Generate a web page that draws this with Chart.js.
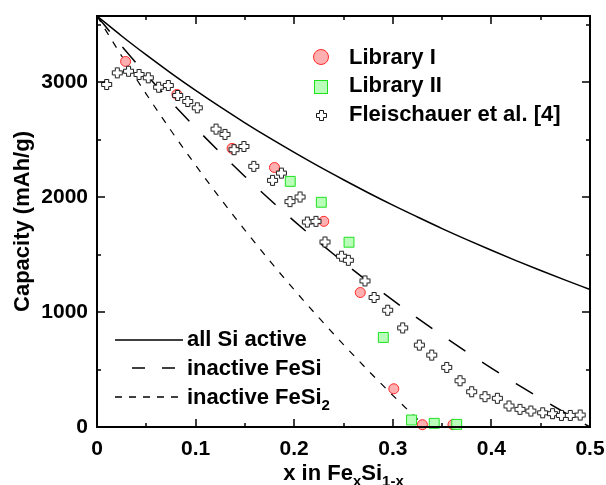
<!DOCTYPE html>
<html>
<head>
<meta charset="utf-8">
<script src="https://cdn.jsdelivr.net/npm/chart.js@4.4.0/dist/chart.umd.min.js"></script>
<style>
  html, body { margin: 0; padding: 0; background: #fff; }
</style>
</head>
<body>
<canvas id="chart" width="606" height="485"></canvas>
<script>
// Library I (red circles)
const lib1X = [0.029, 0.081, 0.137, 0.180, 0.230, 0.267, 0.301, 0.330, 0.361];
const lib1Y = [3183, 2896, 2426, 2260, 1791, 1171, 333, 20, 20];

// Library II (green squares)
const lib2X = [0.196, 0.2275, 0.2556, 0.2904, 0.319, 0.342, 0.3648];
const lib2Y = [2139, 1957, 1609, 780, 61, 32, 23];

// Fleischauer et al. [4] (open crosses)
const flX = [0.0098, 0.0206, 0.032, 0.0426, 0.052, 0.0625, 0.0723, 0.0818, 0.092, 0.1017,
             0.1207, 0.1298, 0.139, 0.149, 0.159, 0.178, 0.187, 0.1957, 0.2059, 0.2133,
             0.2221, 0.2312, 0.248, 0.2549, 0.2718, 0.281, 0.2948, 0.310, 0.3269, 0.3395,
             0.3547, 0.3682, 0.380, 0.3935, 0.406, 0.4178, 0.429, 0.440, 0.452, 0.462,
             0.471, 0.480, 0.490];
const flY = [2983, 3084, 3098, 3070, 3041, 2959, 2974, 2887, 2835, 2780,
             2594, 2548, 2415, 2443, 2270, 2148, 2211, 1963, 2003, 1785,
             1791, 1611, 1487, 1452, 1272, 1128, 1017, 863, 713, 626,
             519, 403, 307, 264, 250, 183, 154, 139, 124, 116,
             101, 101, 104];

// model curves
const curveX = [0, 0.025, 0.05, 0.075, 0.1, 0.125, 0.15, 0.175, 0.2, 0.225, 0.25,
                0.275, 0.3, 0.325, 0.35, 0.375, 0.4, 0.425, 0.45, 0.475, 0.5];
const allSiY = [3579, 3405, 3240, 3082, 2931, 2787, 2649, 2517, 2391, 2269, 2153,
                2040, 1932, 1829, 1728, 1632, 1539, 1449, 1363, 1279, 1198];
const feSiY = [3579, 3318, 3069, 2832, 2606, 2389, 2182, 1983, 1793, 1610, 1435,
               1266, 1104, 948, 798, 653, 513, 378, 248, 122, 0];
const feSi2X = [0, 0.025, 0.05, 0.075, 0.1, 0.125, 0.15, 0.175, 0.2, 0.225, 0.25,
                0.275, 0.3, 0.325, 0.3333];
const feSi2Y = [3579, 3231, 2899, 2582, 2280, 1991, 1714, 1449, 1195, 952, 718,
                492, 276, 68, 0];

const xTicks = [0, 0.1, 0.2, 0.3, 0.4, 0.5];
const yTicks = [0, 1000, 2000, 3000];

const FONT = '"Liberation Sans", Arial, sans-serif';
const pts = (xs, ys) => xs.map((x, i) => ({ x: x, y: ys[i] }));

// hollow plus used for the Fleischauer points
function makePlus() {
    const c = document.createElement('canvas');
    c.width = c.height = 13;
    const g = c.getContext('2d');
    const m = 6.5, h = 2, L = 5;
    g.beginPath();
    g.moveTo(m - h, m - L); g.lineTo(m + h, m - L); g.lineTo(m + h, m - h);
    g.lineTo(m + L, m - h); g.lineTo(m + L, m + h); g.lineTo(m + h, m + h);
    g.lineTo(m + h, m + L); g.lineTo(m - h, m + L); g.lineTo(m - h, m + h);
    g.lineTo(m - L, m + h); g.lineTo(m - L, m - h); g.lineTo(m - h, m - h);
    g.closePath();
    g.fillStyle = '#fff';
    g.fill();
    g.strokeStyle = '#1a1a1a';
    g.lineWidth = 1;
    g.stroke();
    return c;
}
const plus = makePlus();

const C1_FILL = 'rgb(255,175,175)', C1_LINE = 'rgb(255,40,40)';
const C2_FILL = 'rgb(185,255,185)', C2_LINE = 'rgb(30,225,30)';

// frame, inner ticks, axis titles and both legends
const decor = {
    id: 'decor',
    afterDatasetsDraw(chart) {
        const { ctx, chartArea: a, scales: { x, y } } = chart;
        ctx.save();
        ctx.strokeStyle = '#000';
        ctx.lineWidth = 2;
        ctx.strokeRect(a.left, a.top, a.right - a.left, a.bottom - a.top);

        ctx.lineWidth = 1.5;
        ctx.beginPath();
        for (let i = 1; i < 10; i++) {
            const px = Math.round(x.getPixelForValue(i * 0.05));
            const len = i % 2 === 0 ? 8 : 4;
            ctx.moveTo(px, a.bottom); ctx.lineTo(px, a.bottom - len);
            ctx.moveTo(px, a.top); ctx.lineTo(px, a.top + len);
        }
        for (let i = 1; i <= 7; i++) {
            const py = Math.round(y.getPixelForValue(i * 500));
            const len = i % 2 === 0 ? 8 : 4;
            ctx.moveTo(a.left, py); ctx.lineTo(a.left + len, py);
            ctx.moveTo(a.right, py); ctx.lineTo(a.right - len, py);
        }
        ctx.stroke();

        ctx.fillStyle = '#000';
        ctx.textBaseline = 'alphabetic';

        // y title
        ctx.save();
        ctx.translate(29, (a.top + a.bottom) / 2);
        ctx.rotate(-Math.PI / 2);
        ctx.font = 'bold 22px ' + FONT;
        ctx.textAlign = 'center';
        ctx.fillText('Capacity (mAh/g)', 0, 0);
        ctx.restore();

        // x title with subscripts
        const parts = [['x in Fe', 22, 0], ['x', 15, 6], ['Si', 22, 0], ['1-x', 15, 6]];
        let total = 0;
        parts.forEach(p => { ctx.font = 'bold ' + p[1] + 'px ' + FONT; total += ctx.measureText(p[0]).width; });
        let cx = (a.left + a.right) / 2 - total / 2;
        ctx.textAlign = 'left';
        parts.forEach(p => {
            ctx.font = 'bold ' + p[1] + 'px ' + FONT;
            ctx.fillText(p[0], cx, 480 + p[2]);
            cx += ctx.measureText(p[0]).width;
        });

        // symbol legend (top right)
        ctx.font = 'bold 22px ' + FONT;
        ctx.lineWidth = 1;
        ctx.beginPath();
        ctx.arc(321, 57, 7.5, 0, Math.PI * 2);
        ctx.fillStyle = C1_FILL; ctx.fill();
        ctx.strokeStyle = C1_LINE; ctx.stroke();
        ctx.fillStyle = C2_FILL; ctx.fillRect(314, 80, 14, 14);
        ctx.strokeStyle = C2_LINE; ctx.strokeRect(314.5, 80.5, 13, 13);
        ctx.drawImage(plus, 315, 109);
        ctx.fillStyle = '#000';
        ctx.fillText('Library I', 349, 64);
        ctx.fillText('Library II', 349, 92);
        ctx.fillText('Fleischauer et al. [4]', 349, 121);

        // line legend (bottom left)
        ctx.strokeStyle = '#000';
        ctx.lineWidth = 1.5;
        const rows = [[340, []], [368, [13, 17]], [397, [7, 7]]];
        rows.forEach((r, i) => {
            ctx.setLineDash(r[1]);
            ctx.lineDashOffset = i === 1 ? 13 : 0;
            ctx.beginPath();
            ctx.moveTo(115, r[0]); ctx.lineTo(183, r[0]);
            ctx.stroke();
        });
        ctx.setLineDash([]);
        ctx.fillText('all Si active', 187, 346);
        ctx.fillText('inactive FeSi', 187, 375);
        ctx.fillText('inactive FeSi', 187, 404);
        const w = ctx.measureText('inactive FeSi').width;
        ctx.font = 'bold 15px ' + FONT;
        ctx.fillText('2', 187 + w, 410);
        ctx.restore();
    }
};

new Chart(document.getElementById('chart'), {
    type: 'scatter',
    data: {
        datasets: [
            {
                label: 'Fleischauer et al. [4]',
                data: pts(flX, flY),
                pointStyle: plus,
                order: 0
            },
            {
                label: 'Library II',
                data: pts(lib2X, lib2Y),
                pointStyle: 'rect',
                pointRadius: 7,
                backgroundColor: C2_FILL,
                borderColor: C2_LINE,
                borderWidth: 1,
                order: 1
            },
            {
                label: 'Library I',
                data: pts(lib1X, lib1Y),
                pointStyle: 'circle',
                pointRadius: 5,
                backgroundColor: C1_FILL,
                borderColor: C1_LINE,
                borderWidth: 1,
                order: 2
            },
            {
                label: 'all Si active',
                data: pts(curveX, allSiY),
                showLine: true,
                pointRadius: 0,
                borderColor: '#000',
                borderWidth: 1.5,
                cubicInterpolationMode: 'monotone',
                order: 3
            },
            {
                label: 'inactive FeSi',
                data: pts(curveX, feSiY),
                showLine: true,
                pointRadius: 0,
                borderColor: '#000',
                borderWidth: 1.5,
                borderDash: [20, 20],
                cubicInterpolationMode: 'monotone',
                order: 4
            },
            {
                label: 'inactive FeSi2',
                data: pts(feSi2X, feSi2Y),
                showLine: true,
                pointRadius: 0,
                borderColor: '#000',
                borderWidth: 1.2,
                borderDash: [7, 8],
                cubicInterpolationMode: 'monotone',
                order: 5
            }
        ]
    },
    options: {
        responsive: false,
        animation: false,
        clip: false,
        layout: { padding: { top: 16, right: 16, left: 0, bottom: 0 } },
        plugins: {
            legend: { display: false },
            tooltip: { enabled: false }
        },
        scales: {
            x: {
                type: 'linear',
                min: 0,
                max: 0.5,
                afterFit: s => { s.height = 58; s.paddingLeft = 0; s.paddingRight = 0; },
                afterBuildTicks: s => { s.ticks = xTicks.map(v => ({ value: v })); },
                grid: { display: false, drawTicks: false },
                border: { display: false },
                ticks: {
                    padding: 10,
                    color: '#000',
                    font: { family: FONT, size: 21, weight: 'bold' },
                    callback: v => String(Math.round(v * 10) / 10)
                }
            },
            y: {
                type: 'linear',
                min: 0,
                max: 3579,
                afterFit: s => { s.width = 97; s.paddingTop = 0; s.paddingBottom = 0; },
                afterBuildTicks: s => { s.ticks = yTicks.map(v => ({ value: v })); },
                grid: { display: false, drawTicks: false },
                border: { display: false },
                ticks: {
                    padding: 9,
                    color: '#000',
                    font: { family: FONT, size: 21, weight: 'bold' },
                    callback: v => String(v)
                }
            }
        }
    },
    plugins: [decor]
});
</script>
</body>
</html>
